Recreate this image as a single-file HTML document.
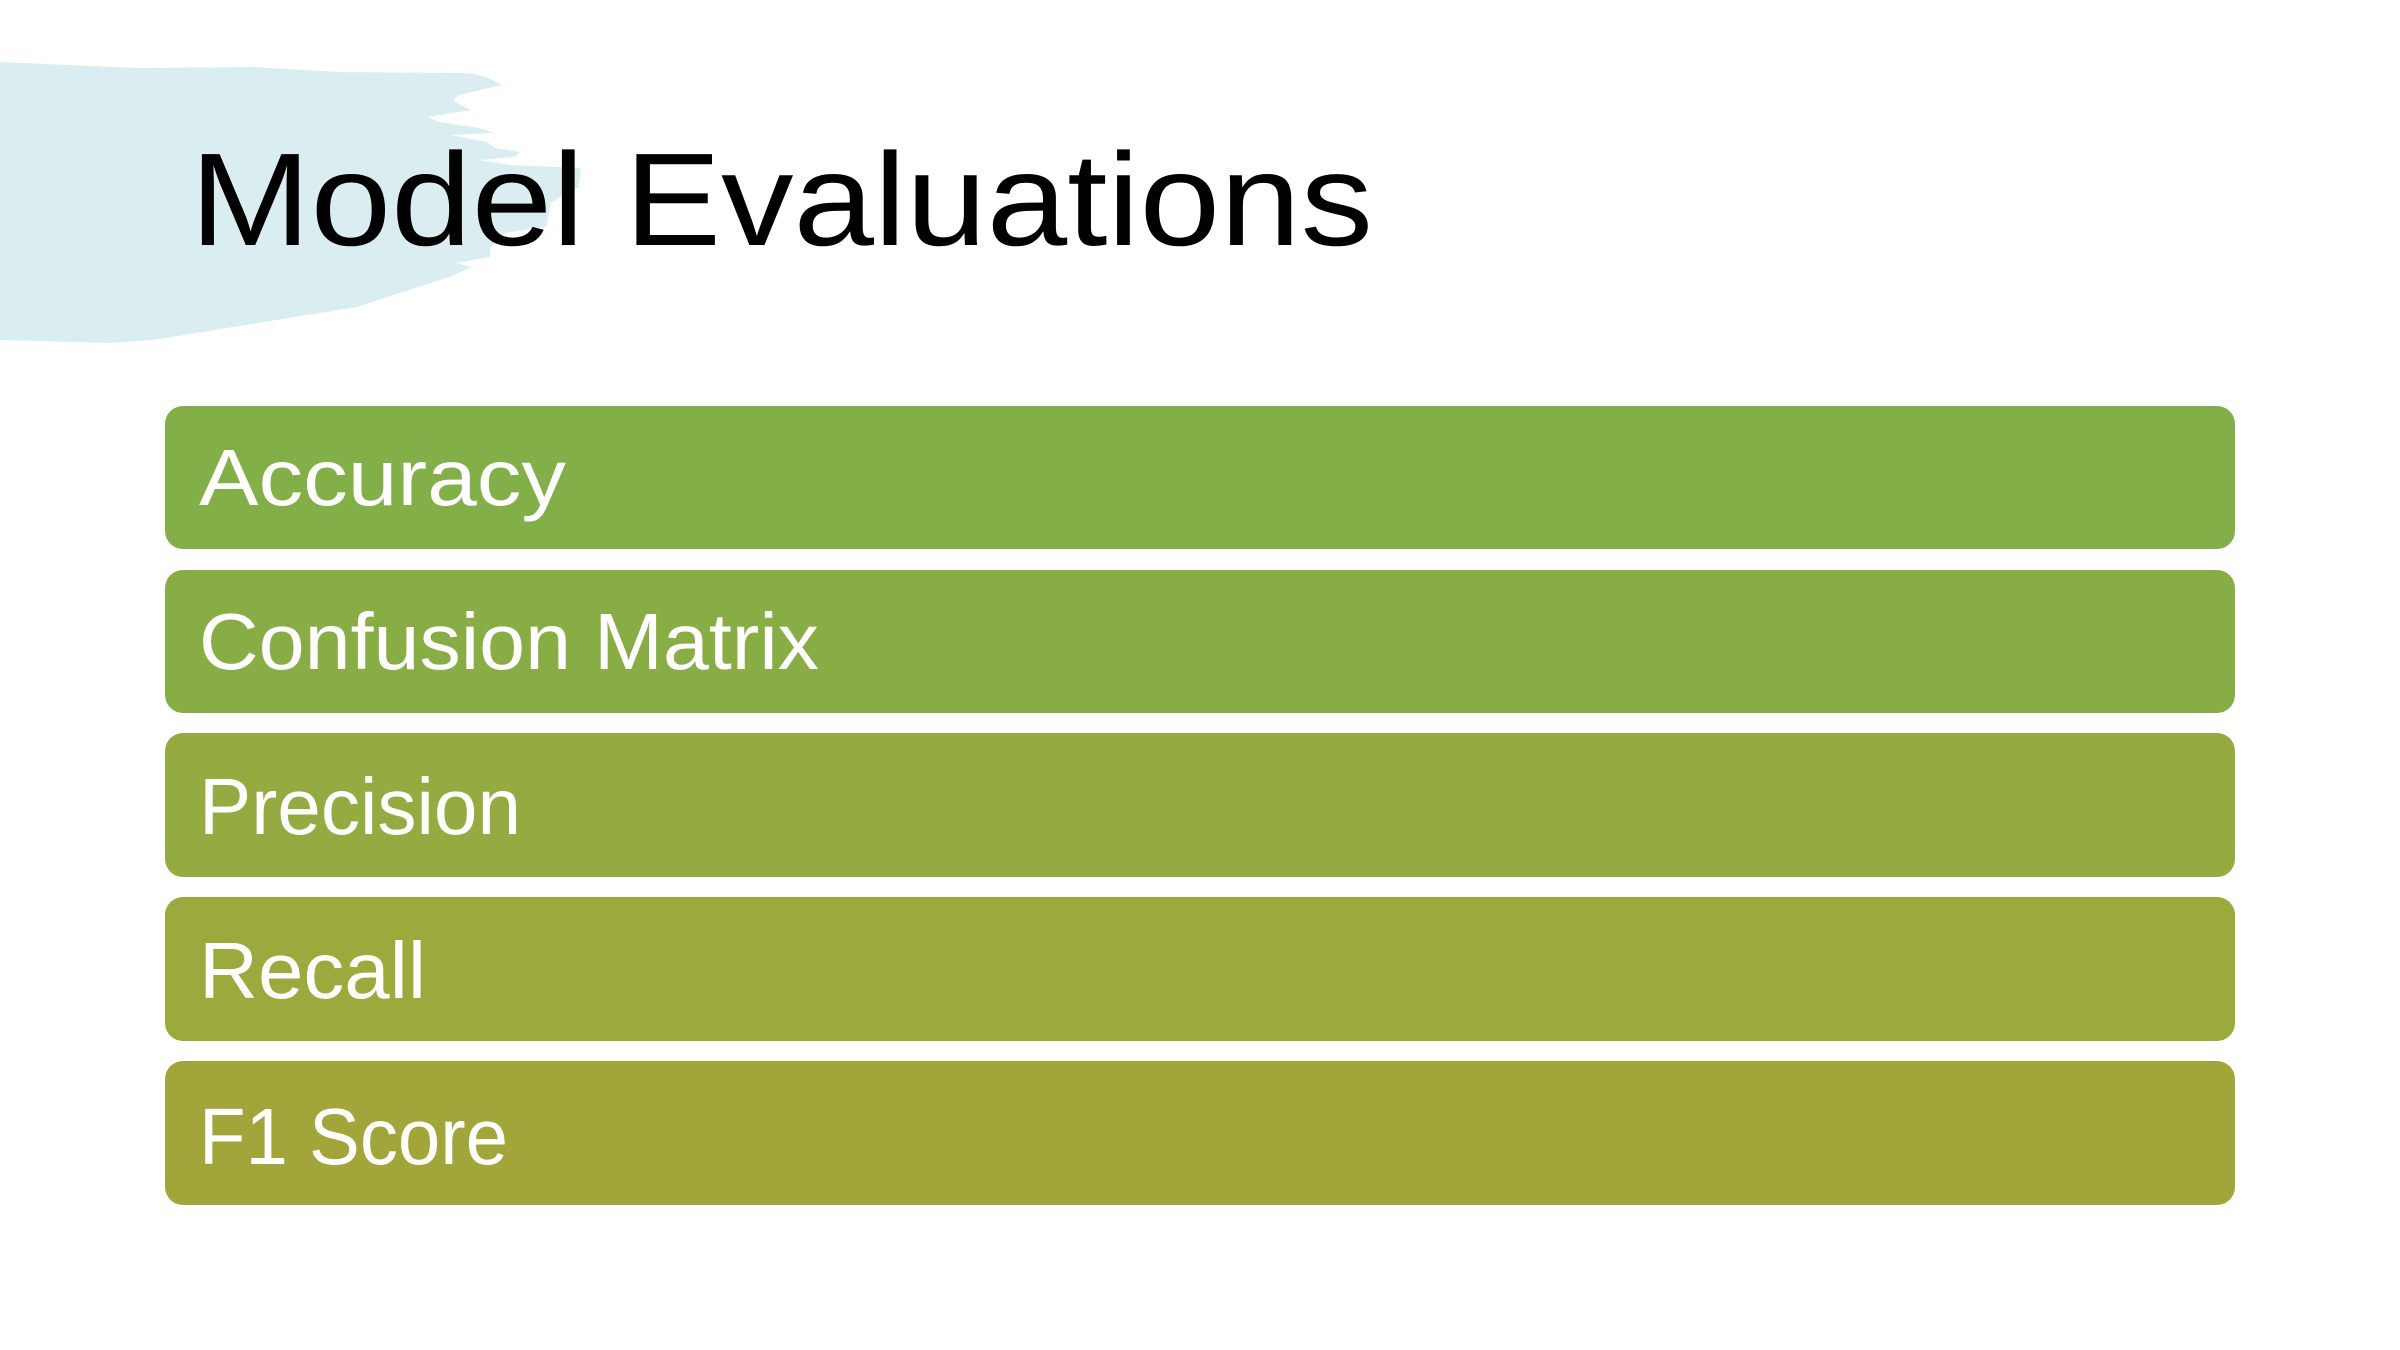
<!DOCTYPE html>
<html><head><meta charset="utf-8"><style>
html,body{margin:0;padding:0;background:#fff;width:2400px;height:1350px;overflow:hidden}
svg{display:block}
text{font-family:"Liberation Sans","DejaVu Sans",sans-serif}
</style></head><body>
<svg width="2400" height="1350" viewBox="0 0 2400 1350">
<path fill="#DAEEF2" d="M0,62 L138,68 L255,67 L337,72 L459,73 C475,73 482,74 502,85 L459,95 C450,100 455,103 472,110 L428,117 L439,122 L479,128 L494,133 L451,135 L487,142 L495,148 L520,152 L515,157 L479,160 L510,165 L581,168 L579,187 L566,193 L551,203 L546,227 L505,233 L490,248 L490,257 L456,263 L472,267 L449,277 L357,307 L153,340 L112,343 L0,340 Z"/>
<text x="190" y="245" font-size="132" fill="#000" textLength="1183" lengthAdjust="spacingAndGlyphs">Model Evaluations</text>
<g>
<g>
<rect x="165" y="406" width="2070" height="143" rx="18" fill="#82AF47"/>
<text x="199" y="505" font-size="80" fill="#fff" textLength="367" lengthAdjust="spacingAndGlyphs">Accuracy</text></g>
<g>
<rect x="165" y="570" width="2070" height="143" rx="18" fill="#89AD45"/>
<text x="199" y="669" font-size="80" fill="#fff" textLength="620" lengthAdjust="spacingAndGlyphs">Confusion Matrix</text></g>
<g>
<rect x="165" y="733" width="2070" height="144" rx="18" fill="#93AB41"/>
<text x="199" y="834" font-size="80" fill="#fff" textLength="322" lengthAdjust="spacingAndGlyphs">Precision</text></g>
<g>
<rect x="165" y="897" width="2070" height="144" rx="18" fill="#9BA93D"/>
<text x="199" y="998" font-size="80" fill="#fff" textLength="227" lengthAdjust="spacingAndGlyphs">Recall</text></g>
<g>
<rect x="165" y="1061" width="2070" height="144" rx="18" fill="#A2A53A"/>
<text x="199" y="1164" font-size="80" fill="#fff" textLength="309" lengthAdjust="spacingAndGlyphs">F1 Score</text></g>
</g>
</svg>
</body></html>
